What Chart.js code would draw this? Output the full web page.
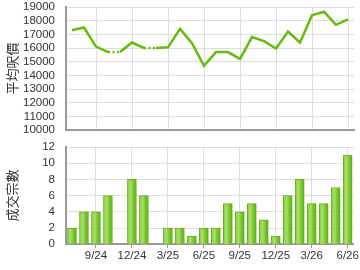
<!DOCTYPE html>
<html>
<head>
<meta charset="utf-8">
<script src="https://cdn.jsdelivr.net/npm/chart.js@4"></script>
<style>
  html, body { margin: 0; padding: 0; background: #fff; }
  #wrap { position: relative; width: 360px; height: 270px; }
  .box { position: absolute; left: 0; width: 360px; }
  #top { top: 0; height: 136px; }
  #bot { top: 140px; height: 130px; }
</style>
</head>
<body>
<div id="wrap">
  <div class="box" id="top"><canvas id="price"></canvas></div>
  <div class="box" id="bot"><canvas id="volume"></canvas></div>
</div>
<script>
// Months Jul 2024 - Jun 2026
const months = ['7/24','8/24','9/24','10/24','11/24','12/24','1/25','2/25','3/25','4/25','5/25','6/25',
                '7/25','8/25','9/25','10/25','11/25','12/25','1/26','2/26','3/26','4/26','5/26','6/26'];
const tickMonths = ['9/24','12/24','3/25','6/25','9/25','12/25','3/26','6/26'];

// Average price per sq ft (missing months carry previous value, drawn dotted)
const avgPrice = [17300, 17500, 16100, 15700, 15700, 16400, 16000, 16000, 16050, 17400, 16350, 14700,
                  15700, 15700, 15200, 16800, 16500, 15950, 17200, 16400, 18400, 18650, 17700, 18100];
// Number of transactions
const deals = [2, 4, 4, 6, 0, 8, 6, 0, 2, 2, 1, 2,
               2, 5, 4, 5, 3, 1, 6, 8, 5, 5, 7, 11];

const priceTicks = { min: 10000, max: 19000, step: 1000 };
const dealTicks  = { min: 0, max: 12, step: 2 };

const GREEN   = '#66bb11';
const GRID    = '#dddddd';
const AXIS    = '#999999';
const FONT    = { family: '"Liberation Sans", Arial, sans-serif', size: 11.5 };
const CJK     = { family: '"Noto Sans CJK TC", "Noto Sans CJK SC", sans-serif', size: 13 };

function xAxis(showLabels) {
  return {
    type: 'category',
    offset: true,
    afterFit: s => { if (!showLabels) s.height = 0; },
    grid: { color: GRID, offset: false, drawTicks: showLabels, tickLength: 4, tickColor: AXIS },
    border: { color: AXIS, width: 2 },
    ticks: {
      display: showLabels,
      autoSkip: false,
      maxRotation: 0,
      color: '#333',
      font: FONT,
      padding: 1,
      callback: function (v, i) {
        const m = months[i];
        return tickMonths.includes(m) ? m : null;
      },
    },
  };
}

function yAxis(t, title) {
  return {
    min: t.min,
    max: t.max,
    afterFit: s => { s.width = 66; s.paddingTop = 0; s.paddingBottom = 0; },
    grid: { color: GRID, drawTicks: false },
    border: { color: AXIS, width: 2 },
    ticks: {
      stepSize: t.step,
      autoSkip: false,
      color: '#333',
      font: FONT,
      padding: 11,
      callback: v => String(v),
    },
    title: { display: true, text: title, color: '#333', font: CJK, padding: { top: 4, bottom: 0 } },
  };
}

const common = {
  responsive: true,
  maintainAspectRatio: false,
  animation: false,
  plugins: { legend: { display: false }, tooltip: { enabled: false } },
};

// ── Price line ────────────────────────────────────────
new Chart(document.getElementById('price'), {
  type: 'line',
  data: {
    labels: months,
    datasets: [{
      data: avgPrice,
      borderColor: GREEN,
      borderWidth: 2.5,
      pointRadius: 0,
      tension: 0,
      segment: {
        borderDash: ctx => deals[ctx.p1DataIndex] === 0 ? [2, 2.5] : undefined,
      },
    }],
  },
  options: {
    ...common,
    layout: { padding: { top: 7, right: 6, left: 0, bottom: 6 } },
    scales: { x: xAxis(false), y: yAxis(priceTicks, '平均呎價') },
  },
});

// ── Deals bars ────────────────────────────────────────
function barFill(ctx) {
  const chart = ctx.chart;
  const x = chart.scales.x;
  if (!x || ctx.dataIndex === undefined) return '#88cc44';
  const cx = x.getPixelForValue(ctx.dataIndex);
  if (!isFinite(cx)) return '#88cc44';
  const g = chart.ctx.createLinearGradient(cx - 4.5, 0, cx + 4.5, 0);
  g.addColorStop(0,    '#88cc44');
  g.addColorStop(0.35, '#a6e066');
  g.addColorStop(0.7,  '#77c22a');
  g.addColorStop(1,    '#5fae18');
  return g;
}

new Chart(document.getElementById('volume'), {
  type: 'bar',
  data: {
    labels: months,
    datasets: [{
      data: deals,
      backgroundColor: barFill,
      borderColor: '#66b020',
      borderWidth: 1,
      borderSkipped: 'bottom',
      barThickness: 9,
    }],
  },
  options: {
    ...common,
    layout: { padding: { top: 7, right: 6, left: 0, bottom: 6 } },
    scales: { x: xAxis(true), y: yAxis(dealTicks, '成交宗數') },
  },
});
</script>
</body>
</html>
